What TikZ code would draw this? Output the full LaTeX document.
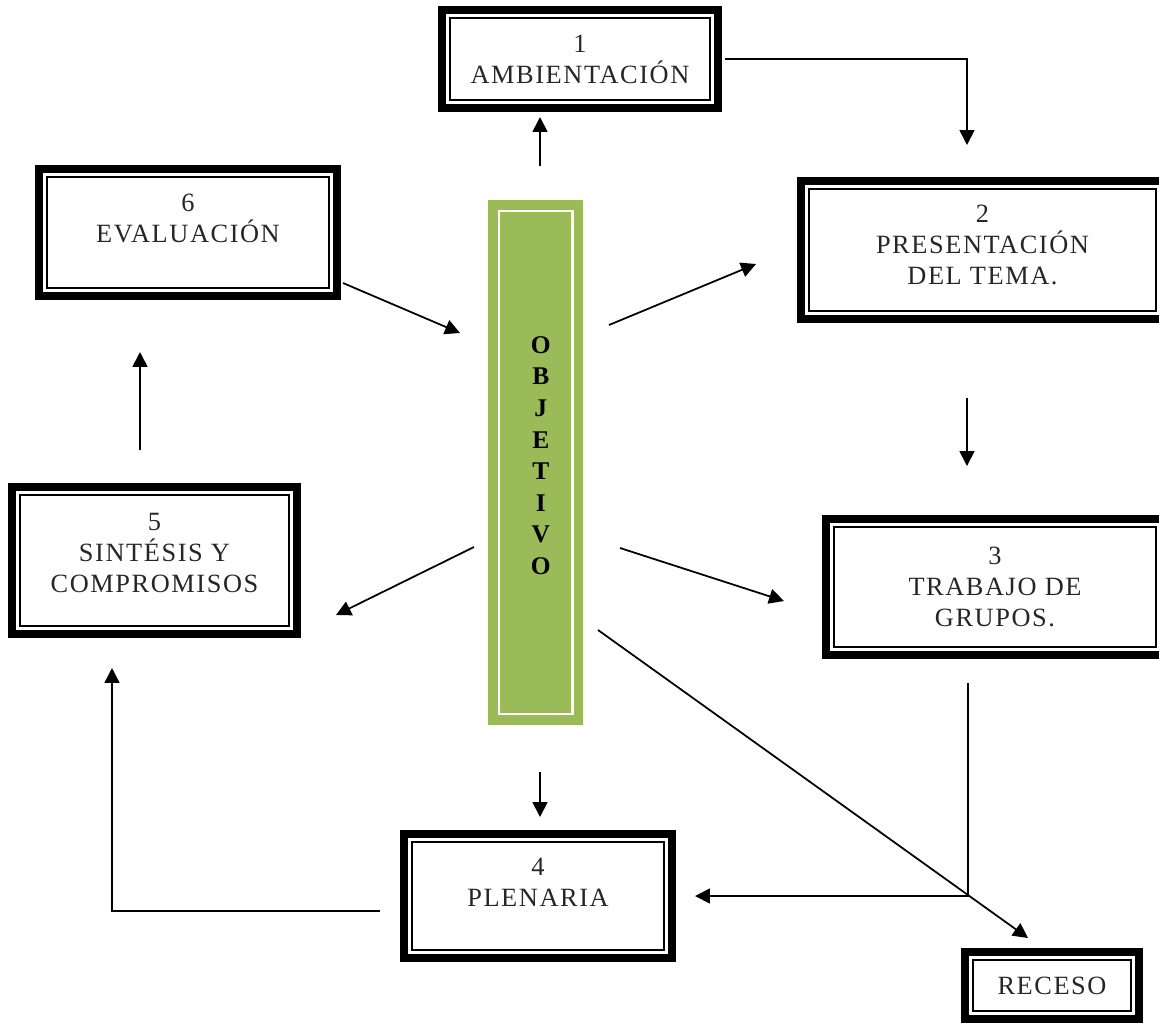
\documentclass[tikz,border=0pt]{standalone}
\usepackage{fontspec}
\setmainfont{Liberation Serif}
\usetikzlibrary{arrows.meta}
\definecolor{olivegreen}{HTML}{9BBB59}

\begin{document}
\begin{tikzpicture}[
  x=0.02cm, y=-0.02cm,
  framebox/.style={draw, line width=4.5pt, align=center, inner sep=0pt,
    font=\fontsize{15}{17.6}\selectfont\addfontfeature{LetterSpace=6}, text=black!85,
    path picture={\draw[line width=1.1pt]
      ([shift={(4.5pt,4.5pt)}]path picture bounding box.south west) rectangle
      ([shift={(-4.5pt,-4.5pt)}]path picture bounding box.north east);}},
  goalbox/.style={fill=olivegreen, align=center, inner sep=0pt,
    font=\bfseries\fontsize{14.5}{18}\selectfont,
    path picture={\draw[white, line width=1.6pt]
      ([shift={(6.2pt,6.2pt)}]path picture bounding box.south west) rectangle
      ([shift={(-6.2pt,-6.2pt)}]path picture bounding box.north east);}},
  link/.style={-{Triangle[length=8.5pt, width=8.5pt]}, line width=1pt}
]
\useasboundingbox (0,0) rectangle (1159,1025);

\node[framebox, minimum width=5.52cm, minimum height=1.96cm] (amb) at (580,59) {1\\AMBIENTACIÓN};
\node[framebox, minimum width=7.26cm, minimum height=2.76cm, text depth=6pt] (pres) at (982.5,250) {2\\PRESENTACIÓN\\DEL TEMA.};
\node[framebox, minimum width=6.76cm, minimum height=2.72cm] (trab) at (995,587) {3\\TRABAJO DE\\GRUPOS.};
\node[framebox, minimum width=5.36cm, minimum height=2.48cm, text depth=16pt] (plen) at (538,896) {4\\PLENARIA};
\node[framebox, minimum width=5.70cm, minimum height=2.94cm, text depth=9pt] (sint) at (154.5,560.5) {5\\SINTÉSIS Y\\COMPROMISOS};
\node[framebox, minimum width=5.96cm, minimum height=2.54cm, text depth=16pt] (eval) at (188,232.5) {6\\EVALUACIÓN};
\node[framebox, minimum width=3.48cm, minimum height=1.34cm] (rec) at (1052,985.5) {RECESO};
\node[goalbox, minimum width=1.9cm, minimum height=10.5cm, text depth=8pt] (obj) at (535.5,462.5) {\hspace*{6pt}O\\\hspace*{6pt}B\\\hspace*{6pt}J\\\hspace*{6pt}E\\\hspace*{6pt}T\\\hspace*{6pt}I\\\hspace*{6pt}V\\\hspace*{6pt}O};

\coordinate (up1) at (540,166);
\coordinate (up2) at (540,117);
\coordinate (ambout) at (725,59);
\coordinate (presin) at (967,145);
\coordinate (presout) at (967,398);
\coordinate (trabin) at (967,466);
\coordinate (toprs) at (609,325);
\coordinate (topre) at (756,264);
\coordinate (evals) at (343,283);
\coordinate (evale) at (460,333);
\coordinate (sintup) at (140,450);
\coordinate (evalin) at (140,352);
\coordinate (tosis) at (474,547);
\coordinate (tosie) at (336,615);
\coordinate (totrs) at (620,548);
\coordinate (totre) at (784,601);
\coordinate (tores) at (598,630);
\coordinate (torec) at (1028,938);
\coordinate (down1) at (540,772);
\coordinate (down2) at (540,817);
\coordinate (trabout) at (968,683);
\coordinate (plenin) at (695,896);
\coordinate (plenout) at (380,911);
\coordinate (sintin) at (112,668);

\draw[link] (up1) -- (up2);
\draw[link] (ambout) -| (presin);
\draw[link] (presout) -- (trabin);
\draw[link] (toprs) -- (topre);
\draw[link] (evals) -- (evale);
\draw[link] (sintup) -- (evalin);
\draw[link] (tosis) -- (tosie);
\draw[link] (totrs) -- (totre);
\draw[link] (tores) -- (torec);
\draw[link] (down1) -- (down2);
\draw[link] (trabout) |- (plenin);
\draw[link] (plenout) -| (sintin);
\end{tikzpicture}
\end{document}
